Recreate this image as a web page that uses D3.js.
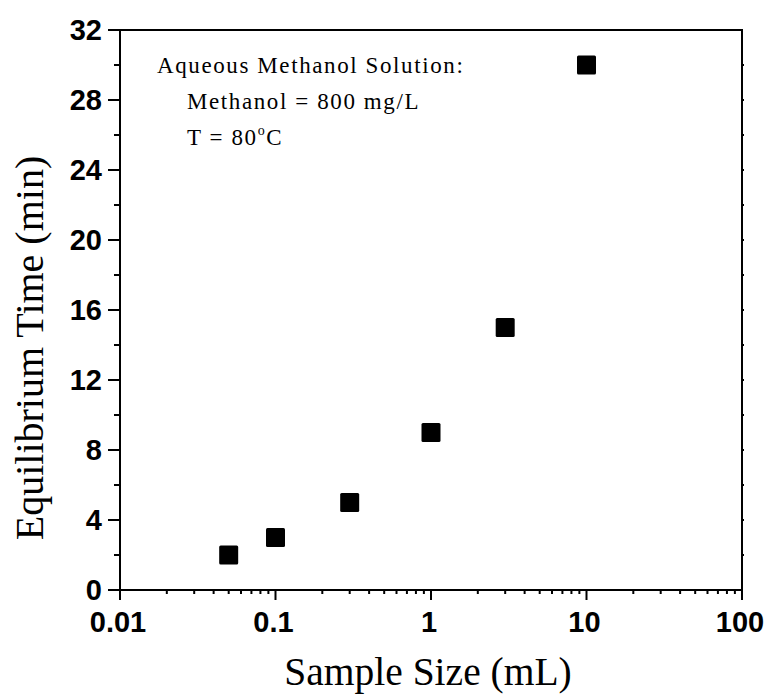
<!DOCTYPE html>
<html>
<head>
<meta charset="utf-8">
<script src="https://cdn.jsdelivr.net/npm/d3@7"></script>
<style>
  html, body { margin: 0; padding: 0; background: #fff; }
  svg { display: block; }
  .tick-label { font-family: "Liberation Sans", Arial, sans-serif; font-weight: bold; font-size: 29px; fill: #000; }
  .axis-title { font-family: "Liberation Serif", "Times New Roman", serif; fill: #000; }
  .note { font-family: "Liberation Serif", "Times New Roman", serif; font-size: 23px; fill: #000; letter-spacing: 1.6px; }
</style>
</head>
<body>
<div id="chart"></div>
<script>
// data
const sampleSize = [0.05, 0.1, 0.3, 1, 3, 10];       // mL
const eqTime = [2, 3, 5, 9, 15, 30];                  // min
const xTicks = [0.01, 0.1, 1, 10, 100];
const xTickLabels = ["0.01", "0.1", "1", "10", "100"];
const yTicks = [0, 4, 8, 12, 16, 20, 24, 28, 32];
const noteLines = ["Aqueous Methanol Solution:", "Methanol = 800 mg/L"];

const width = 770, height = 694;
const m = { left: 120, right: 742, top: 30, bottom: 590 };

const svg = d3.select("#chart").append("svg")
  .attr("width", width).attr("height", height);

const x = d3.scaleLog().domain([0.01, 100]).range([m.left, m.right]);
const y = d3.scaleLinear().domain([0, 32]).range([m.bottom, m.top]);

// minor ticks
const xMinor = [];
[0.01, 0.1, 1, 10].forEach(d => { for (let k = 2; k <= 9; k++) xMinor.push(d * k); });
const yMinor = d3.range(2, 32, 4);

const axes = svg.append("g").attr("stroke", "#000").attr("stroke-width", 2);

// bottom ticks (outward)
axes.selectAll(".xmaj").data(xTicks).join("line")
  .attr("x1", d => x(d)).attr("x2", d => x(d))
  .attr("y1", m.bottom).attr("y2", m.bottom + 10);
axes.selectAll(".xmin").data(xMinor).join("line")
  .attr("x1", d => x(d)).attr("x2", d => x(d))
  .attr("y1", m.bottom).attr("y2", m.bottom + 4);

// left ticks (outward)
axes.selectAll(".ymaj").data(yTicks).join("line")
  .attr("x1", m.left - 12).attr("x2", m.left)
  .attr("y1", d => y(d)).attr("y2", d => y(d));
axes.selectAll(".ymin").data(yMinor).join("line")
  .attr("x1", m.left - 6).attr("x2", m.left)
  .attr("y1", d => y(d)).attr("y2", d => y(d));

// right stubs
axes.selectAll(".yright").data(yTicks.concat(yMinor).filter(d => d > 0 && d < 32)).join("line")
  .attr("x1", m.right).attr("x2", m.right + 2)
  .attr("y1", d => y(d)).attr("y2", d => y(d));

// frame
svg.append("rect")
  .attr("x", m.left).attr("y", m.top)
  .attr("width", m.right - m.left).attr("height", m.bottom - m.top)
  .attr("fill", "none").attr("stroke", "#000").attr("stroke-width", 2);

// tick labels
svg.selectAll(".xl").data(xTicks).join("text")
  .attr("class", "tick-label")
  .attr("x", d => x(d) - 2).attr("y", 632)
  .attr("text-anchor", "middle")
  .text((d, i) => xTickLabels[i]);

svg.selectAll(".yl").data(yTicks).join("text")
  .attr("class", "tick-label")
  .attr("x", m.left - 18).attr("y", d => y(d) + 10)
  .attr("text-anchor", "end")
  .text(d => d);

// axis titles
svg.append("text").attr("class", "axis-title")
  .attr("font-size", "39.5px")
  .attr("x", 428).attr("y", 685)
  .attr("text-anchor", "middle")
  .text("Sample Size (mL)");

svg.append("text").attr("class", "axis-title")
  .attr("font-size", "40px")
  .attr("transform", "translate(43, 348) rotate(-90)")
  .attr("text-anchor", "middle")
  .text("Equilibrium Time (min)");

// annotation
svg.append("text").attr("class", "note").attr("x", 157).attr("y", 73).text(noteLines[0]);
svg.append("text").attr("class", "note").attr("x", 187).attr("y", 109).text(noteLines[1]);
const t = svg.append("text").attr("class", "note").attr("x", 187).attr("y", 145);
t.append("tspan").text("T = 80");
t.append("tspan").attr("dy", -10).attr("font-size", "14px").text("o");
t.append("tspan").attr("dy", 10).text("C");

// markers
const s = 19;
svg.append("g").selectAll("rect").data(sampleSize).join("rect")
  .attr("x", d => x(d) - s / 2)
  .attr("y", (d, i) => y(eqTime[i]) - s / 2)
  .attr("width", s).attr("height", s)
  .attr("rx", 1.5)
  .attr("fill", "#000");
</script>
</body>
</html>
